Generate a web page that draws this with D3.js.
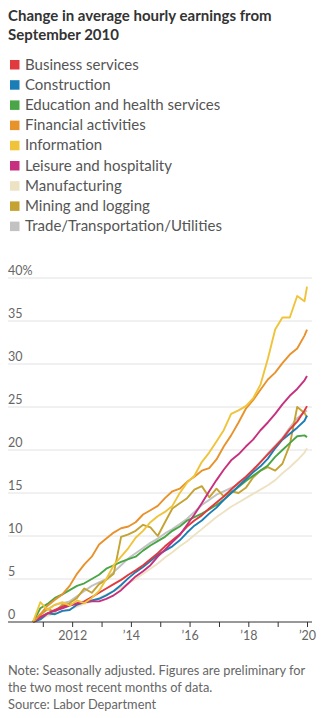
<!DOCTYPE html>
<html>
<head>
<meta charset="utf-8">
<script src="https://cdn.jsdelivr.net/npm/d3@7"></script>
<style>
  html, body { margin: 0; padding: 0; background: #fff; }
  svg { display: block; font-family: Lato, "Noto Sans", sans-serif; }
</style>
</head>
<body>
<div id="chart"></div>
<script>
// quarterly readings, % change since Sep 2010
var dates = ["2010-09","2010-12","2011-03","2011-06","2011-09","2011-12","2012-03","2012-06","2012-09","2012-12",
  "2013-03","2013-06","2013-09","2013-12","2014-03","2014-06","2014-09","2014-12","2015-03","2015-06",
  "2015-09","2015-12","2016-03","2016-06","2016-09","2016-12","2017-03","2017-06","2017-09","2017-12",
  "2018-03","2018-06","2018-09","2018-12","2019-03","2019-06","2019-09","2019-12","2020-01"];

var categories = ["Business services", "Construction", "Education and health services", "Financial activities",
  "Information", "Leisure and hospitality", "Manufacturing", "Mining and logging", "Trade/Transportation/Utilities"];

var colors = ["#e03a3e", "#1a7db6", "#4aa546", "#e8922c", "#f0c43a", "#c6307e", "#ede2c2", "#c4a332", "#c2c2c2"];

var business = [0,0.6,1.0,1.4,1.8,2.0,2.2,2.4,2.9,3.4,3.9,4.4,4.9,5.5,6.0,6.6,7.3,8.0,8.8,9.5,
  10.2,11.1,11.8,12.4,13.2,13.9,14.6,15.4,16.2,16.9,17.7,18.6,19.5,20.4,21.3,22.4,23.3,24.6,25.1];
var construction = [0,0.3,1.0,0.9,1.3,1.4,2.0,2.3,2.5,2.7,3.1,3.6,4.3,5.1,5.8,6.4,7.1,7.8,8.3,8.8,
  9.5,10.4,11.2,11.8,12.6,13.3,14.2,15.0,15.8,16.6,17.4,18.1,19.0,20.2,21.2,21.9,22.6,23.4,24.0];
var education = [0,1.6,2.1,2.8,3.2,3.7,4.2,4.5,5.0,5.5,6.2,6.6,7.0,7.3,7.6,8.3,8.9,9.4,9.9,10.6,
  11.1,11.8,12.2,12.6,13.1,13.6,14.2,15.0,15.7,16.4,17.0,17.6,18.2,19.2,20.0,20.8,21.6,21.7,21.5];
var financial = [0,0.9,1.9,2.6,3.2,4.2,5.6,6.7,7.6,9.0,9.7,10.4,10.9,11.1,11.6,12.5,13.0,13.5,14.4,15.2,
  15.5,16.3,16.9,17.6,17.9,18.9,20.4,21.7,23.2,24.8,25.8,27.0,28.2,29.0,30.1,31.1,31.8,33.3,34.0];
var information = [0,2.3,1.4,2.0,2.3,1.9,2.5,2.2,2.8,3.6,5.0,6.6,7.6,8.6,9.8,10.6,11.6,12.3,12.8,13.5,
  15.0,16.2,17.0,18.6,19.7,21.0,22.3,24.2,24.6,25.1,26.0,27.6,30.6,34.0,35.4,35.4,37.9,37.3,39.0];
var leisure = [0,0.5,1.0,1.3,1.6,1.9,2.1,2.3,2.4,2.4,2.7,3.1,3.7,4.5,5.3,5.9,6.6,7.6,8.4,9.3,
  10.1,11.3,12.5,13.8,15.2,16.5,17.7,18.8,19.5,20.4,21.2,22.3,23.2,24.2,25.3,26.3,27.1,28.1,28.6];
var manufacturing = [0,0.4,0.7,1.0,1.2,1.5,1.8,2.1,2.4,2.8,3.2,3.6,4.0,4.5,5.0,5.6,6.2,6.8,7.5,8.1,
  8.8,9.4,10.1,10.8,11.5,12.2,12.8,13.4,13.9,14.4,14.9,15.4,15.9,16.5,17.3,18.0,18.8,19.7,20.2];
var mining = [0,0.8,1.5,1.2,2.0,2.2,2.8,3.9,3.4,4.4,4.9,5.6,9.9,10.2,10.6,11.3,11.0,10.0,11.6,13.2,
  13.8,14.4,15.4,15.8,14.5,15.5,14.6,15.2,15.0,15.6,16.8,17.6,18.0,17.6,18.4,20.6,25.0,24.3,23.8];
var trade = [0,0.9,1.5,2.0,2.2,2.4,3.0,3.6,4.2,4.6,5.0,5.8,6.6,7.4,8.0,8.6,9.2,9.7,10.3,10.8,
  11.4,12.0,12.8,13.6,14.2,14.8,15.2,15.6,16.0,16.7,17.6,18.6,19.6,20.5,21.4,22.6,23.7,24.4,24.6];

var yTicks = [0, 5, 10, 15, 20, 25, 30, 35, 40];
var xLabels = ["2012", "\u201914", "\u201916", "\u201918", "\u201920"];

var seriesValues = [business, construction, education, financial, information, leisure, manufacturing, mining, trade];
// order the lines are painted in (last on top)
var drawOrder = [6, 8, 7, 2, 1, 0, 5, 3, 4];

var W = 324, H = 718;
var svg = d3.select("#chart").append("svg")
  .attr("width", W)
  .attr("height", H);

// title
var title = svg.append("text")
  .attr("x", 8).attr("y", 21)
  .attr("fill", "#333")
  .style("font-size", "15px")
  .style("font-weight", "bold");
title.append("tspan").attr("x", 8).attr("y", 21).text("Change in average hourly earnings from");
title.append("tspan").attr("x", 8).attr("y", 40).text("September 2010");

// legend
var legend = svg.selectAll(".legend")
  .data(categories)
  .enter().append("g")
  .attr("class", "legend")
  .attr("transform", function(d, i) { return "translate(10," + (69.5 + i * 20.2) + ")"; });
legend.append("rect")
  .attr("x", 0).attr("y", -9.5)
  .attr("width", 9.5).attr("height", 9.5)
  .attr("fill", function(d, i) { return colors[i]; });
legend.append("text")
  .attr("x", 15).attr("y", 0)
  .attr("fill", "#555")
  .style("font-size", "15px")
  .text(function(d) { return d; });

// scales
var parse = d3.timeParse("%Y-%m");
var x = d3.scaleTime()
  .domain([parse("2010-09"), parse("2020-01")])
  .range([33, 307]);
var y = d3.scaleLinear()
  .domain([0, 40])
  .range([622, 278]);

var left = 8, right = 312;

// gridlines + y labels
svg.selectAll(".grid")
  .data(yTicks.filter(function(d) { return d > 0; }))
  .enter().append("line")
  .attr("x1", left).attr("x2", right)
  .attr("y1", function(d) { return y(d); })
  .attr("y2", function(d) { return y(d); })
  .attr("stroke", "#e2e2e2")
  .attr("stroke-width", 1);

svg.selectAll(".ylab")
  .data(yTicks)
  .enter().append("text")
  .attr("x", left)
  .attr("y", function(d) { return y(d) - 3; })
  .attr("fill", "#666")
  .style("font-size", "12.5px")
  .text(function(d) { return d === 40 ? "40%" : d; });

// lines
var line = d3.line()
  .x(function(d, i) { return x(parse(dates[i])); })
  .y(function(d) { return y(d); });

svg.selectAll(".series")
  .data(drawOrder)
  .enter().append("path")
  .attr("fill", "none")
  .attr("stroke", function(k) { return colors[k]; })
  .attr("stroke-width", 1.9)
  .attr("stroke-linejoin", "round")
  .attr("d", function(k) { return line(seriesValues[k]); });

// x axis
svg.append("line")
  .attr("x1", left).attr("x2", right)
  .attr("y1", y(0)).attr("y2", y(0))
  .attr("stroke", "#333")
  .attr("stroke-width", 1);

var xAxis = d3.axisBottom(x)
  .ticks(d3.timeYear.every(1))
  .tickSize(5)
  .tickFormat(function(d) {
    var yr = d.getFullYear();
    if (yr % 2 === 1 || yr < 2012) return "";
    return xLabels[(yr - 2012) / 2];
  });

var gx = svg.append("g")
  .attr("transform", "translate(0," + y(0) + ")")
  .call(xAxis);
gx.select(".domain").remove();
gx.selectAll(".tick line").attr("stroke", "#333");
gx.selectAll(".tick text")
  .attr("fill", "#666")
  .attr("dy", 0)
  .attr("y", 18)
  .style("font-size", "12.5px")
  .style("font-family", "Lato, 'Noto Sans', sans-serif");

// footnote
var notes = ["Note: Seasonally adjusted. Figures are preliminary for",
  "the two most recent months of data.",
  "Source: Labor Department"];
svg.selectAll(".note")
  .data(notes)
  .enter().append("text")
  .attr("x", 8)
  .attr("y", function(d, i) { return 675 + i * 17; })
  .attr("fill", "#666")
  .style("font-size", "12.8px")
  .text(function(d) { return d; });
</script>
</body>
</html>
